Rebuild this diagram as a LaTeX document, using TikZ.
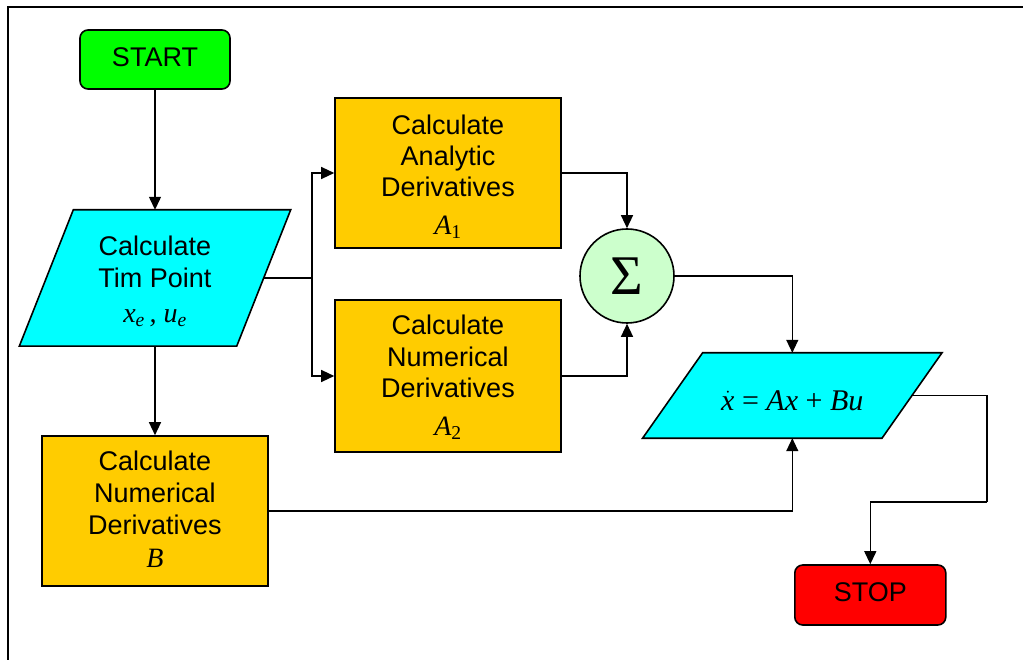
\documentclass[tikz,border=0pt]{standalone}
\usepackage{fontspec}
\setmainfont{Liberation Sans}
\newfontfamily\tms{Liberation Serif}
\usetikzlibrary{arrows.meta,backgrounds}
\definecolor{startgreen}{RGB}{0,255,0}
\definecolor{paracyan}{RGB}{0,255,255}
\definecolor{boxorange}{RGB}{255,204,0}
\definecolor{sumgreen}{RGB}{204,255,204}
\definecolor{stopred}{RGB}{255,0,0}
\newcommand\lbl[2]{\raisebox{#1}[\height][\depth]{\begin{tabular}{@{}c@{}}#2\end{tabular}}}
\newcommand\mth[1]{{\fontsize{28}{31}\selectfont\tms\itshape #1}}
\tikzset{
  boxline/.style={draw=black, line width=1.6pt},
  terminal/.style={boxline, rounded corners=8pt, inner sep=0pt},
  procbox/.style={boxline, fill=boxorange, inner sep=0pt},
  iobox/.style={inner sep=0pt},
  conn/.style={line width=1.3pt, draw=black},
  arr/.style={conn, -{Triangle[length=13pt,width=12pt]}},
}
\begin{document}
\begin{tikzpicture}[x=1pt,y=-1pt,font=\fontsize{27}{31}\selectfont]
\useasboundingbox (0,0) rectangle (1023,660);
\draw[line width=2.4pt] (8,660) -- (8,7) -- (1023,7);

\node[terminal, fill=startgreen, minimum width=150pt, minimum height=59pt] (start) at (155,59.5) {\lbl{-1pt}{START}};

\node[iobox, minimum width=217pt, minimum height=136pt] (tp) at (155,278)
  {\lbl{-4.7pt}{Calculate\\[1pt]Tim Point\\[4pt]\mth{x\textsubscript{e}\,, u\textsubscript{e}}}};

\node[procbox, minimum width=226pt, minimum height=150pt] (a1) at (448,173)
  {\lbl{-5.3pt}{Calculate\\Analytic\\Derivatives\\[7pt]\mth{A\textsubscript{\upshape 1}}}};

\node[procbox, minimum width=226pt, minimum height=152pt] (a2) at (448,376)
  {\lbl{-2.8pt}{Calculate\\Numerical\\Derivatives\\[7pt]\mth{A\textsubscript{\upshape 2}}}};

\node[procbox, minimum width=226pt, minimum height=150pt] (b) at (155,511)
  {\lbl{-1.3pt}{Calculate\\[1pt]Numerical\\[1pt]Derivatives\\[2pt]\mth{B}}};

\node[circle, boxline, fill=sumgreen, minimum size=94pt, inner sep=0pt] (sum) at (627,276)
  {\fontsize{56}{60}\selectfont\tms Σ};

\node[iobox, minimum width=239pt, minimum height=85pt] (eq) at (792.3,395.5)
  {\lbl{-9pt}{{\fontsize{30}{31}\selectfont\tms\itshape $\dot{\mbox{x}}$ {\upshape=} Ax {\upshape+} Bu}}};

\node[terminal, fill=stopred, minimum width=151pt, minimum height=60pt] (stop) at (870.3,595) {\lbl{0pt}{STOP}};

\begin{scope}[on background layer]
\fill[white] (0,0) rectangle (1023,660);
\filldraw[boxline, fill=paracyan] ([xshift=27pt]tp.north west) -- ([xshift=27pt]tp.north east)
  -- ([xshift=-27pt]tp.south east) -- ([xshift=-27pt]tp.south west) -- cycle;
\filldraw[boxline, fill=paracyan] ([xshift=30pt]eq.north west) -- ([xshift=30pt]eq.north east)
  -- ([xshift=-30pt]eq.south east) -- ([xshift=-30pt]eq.south west) -- cycle;
\end{scope}

\coordinate (split) at (312,278);
\coordinate (turn) at (987,502);

\draw[arr] (start.south) -- (tp.north);
\draw[conn] (tp.east) -- (split);
\draw[arr] (split) |- (a1.west);
\draw[arr] (split) |- (a2.west);
\draw[arr] (tp.south) -- (b.north);
\draw[arr] (a1.east) -| (sum.north);
\draw[arr] (a2.east) -| (sum.south);
\draw[arr] (sum.east) -| (eq.north);
\draw[arr] (b.east) -| (eq.south);
\draw[conn] (eq.east) -| (turn);
\draw[arr] (turn) -| (stop.north);
\end{tikzpicture}
\end{document}
